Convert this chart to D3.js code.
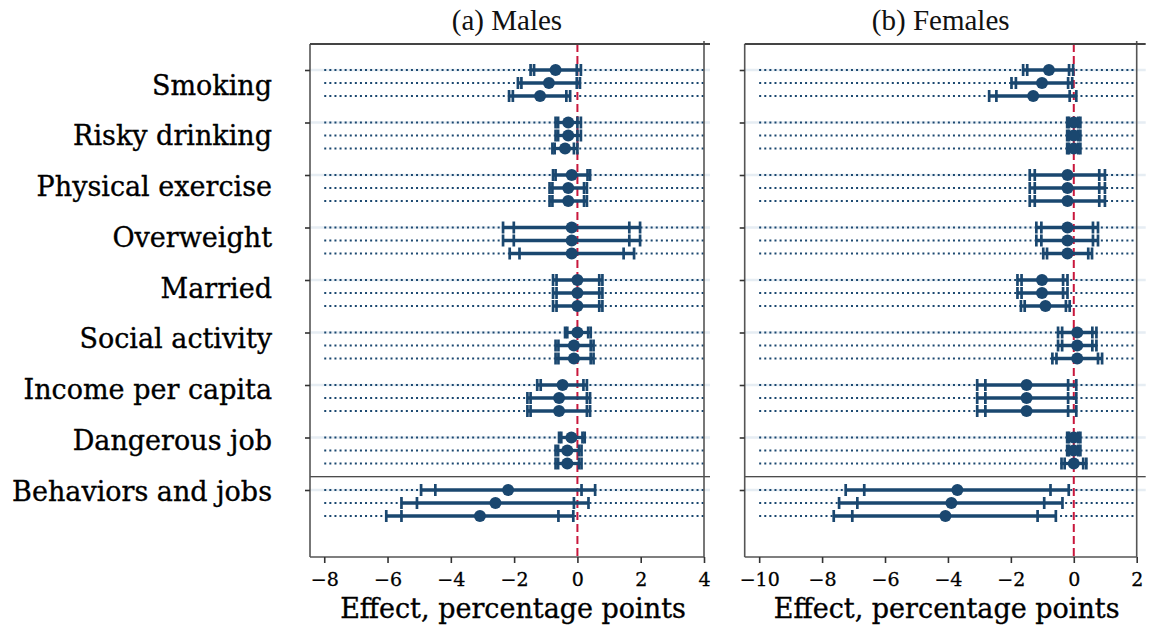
<!DOCTYPE html>
<html><head><meta charset="utf-8">
<script src="https://cdn.jsdelivr.net/npm/d3@7"></script>
<style>body{margin:0;background:#fff}svg{display:block}</style>
</head><body><svg id="c" width="1149" height="629"></svg>
<script>
// ---------- DATA ----------
const categories = ["Smoking","Risky drinking","Physical exercise","Overweight","Married","Social activity","Income per capita","Dangerous job","Behaviors and jobs"];
const panelTitles = ["(a) Males","(b) Females"];
const axisTitle = "Effect, percentage points";
const maleTicks = [-8,-6,-4,-2,0,2,4];
const femaleTicks = [-10,-8,-6,-4,-2,0,2];

// males: three specifications per category
const maleEst  = [[-0.69,-0.90,-1.18],[-0.29,-0.29,-0.39],[-0.18,-0.29,-0.29],[-0.18,-0.18,-0.18],[0.00,0.00,0.00],[0.00,-0.11,-0.11],[-0.47,-0.58,-0.58],[-0.19,-0.32,-0.32],[-2.19,-2.59,-3.08]];
const maleLo95 = [[-1.48,-1.88,-2.16],[-0.69,-0.69,-0.79],[-0.77,-0.88,-0.88],[-2.35,-2.35,-2.14],[-0.77,-0.77,-0.77],[-0.39,-0.69,-0.69],[-1.27,-1.58,-1.58],[-0.58,-0.69,-0.69],[-4.94,-5.56,-6.04]];
const maleLo90 = [[-1.37,-1.77,-2.04],[-0.61,-0.61,-0.72],[-0.69,-0.79,-0.79],[-2.01,-2.01,-1.83],[-0.66,-0.66,-0.66],[-0.32,-0.60,-0.60],[-1.16,-1.48,-1.48],[-0.51,-0.61,-0.61],[-4.49,-5.07,-5.56]];
const maleHi90 = [[-0.02,-0.02,-0.35],[0.00,0.00,-0.11],[0.32,0.21,0.21],[1.64,1.64,1.46],[0.69,0.69,0.69],[0.34,0.42,0.42],[0.19,0.30,0.30],[0.16,0.05,0.05],[0.13,-0.11,-0.60]];
const maleHi95 = [[0.11,0.08,-0.23],[0.11,0.11,0.00],[0.40,0.30,0.30],[1.98,1.98,1.79],[0.79,0.79,0.79],[0.42,0.51,0.51],[0.30,0.40,0.40],[0.23,0.13,0.13],[0.56,0.35,-0.13]];

// females
const femaleEst  = [[-0.79,-1.01,-1.29],[0.00,0.00,0.00],[-0.20,-0.20,-0.20],[-0.20,-0.20,-0.20],[-1.01,-1.01,-0.90],[0.11,0.11,0.11],[-1.50,-1.50,-1.50],[0.00,0.00,0.00],[-3.70,-3.89,-4.08]];
const femaleLo95 = [[-1.61,-1.98,-2.69],[-0.21,-0.21,-0.21],[-1.40,-1.40,-1.40],[-1.19,-1.19,-0.97],[-1.79,-1.79,-1.68],[-0.50,-0.50,-0.68],[-3.07,-3.07,-3.07],[-0.21,-0.21,-0.39],[-7.25,-7.46,-7.63]];
const femaleLo90 = [[-1.48,-1.84,-2.46],[-0.15,-0.15,-0.15],[-1.24,-1.24,-1.24],[-1.03,-1.03,-0.85],[-1.66,-1.66,-1.56],[-0.37,-0.37,-0.55],[-2.81,-2.81,-2.81],[-0.15,-0.15,-0.29],[-6.66,-6.88,-7.04]];
const femaleHi90 = [[-0.15,-0.18,-0.13],[0.14,0.14,0.14],[0.81,0.81,0.81],[0.61,0.61,0.46],[-0.34,-0.34,-0.25],[0.59,0.59,0.77],[-0.18,-0.18,-0.18],[0.14,0.14,0.30],[-0.74,-0.94,-1.15]];
const femaleHi95 = [[-0.02,-0.05,0.08],[0.21,0.21,0.21],[0.99,0.99,0.99],[0.77,0.77,0.58],[-0.20,-0.20,-0.13],[0.72,0.72,0.90],[0.08,0.08,0.08],[0.21,0.21,0.40],[-0.16,-0.36,-0.57]];

// ---------- DRAW ----------
const svg = d3.select("#c");
const NAVY = "#1a476f", RED = "#c8173c", FRAME = "#555";
const TOP = 44, BOTTOM = 557;
const serif = "'DejaVu Serif', serif";

const groupY = d3.scalePoint().domain(categories).range([70, 490]);
const subY = d3.scaleLinear().domain([0, 2]).range([0, 26]);
const labelY = d3.scalePoint().domain(categories).range([84, 490]);

const panels = [
  {title: panelTitles[0], range: [310, 704], domainMin: -8.45, ticks: maleTicks,
   est: maleEst, lo95: maleLo95, lo90: maleLo90, hi90: maleHi90, hi95: maleHi95, labels: true, ext: 6},
  {title: panelTitles[1], range: [744.7, 1136.7], domainMin: -10.46, ticks: femaleTicks,
   est: femaleEst, lo95: femaleLo95, lo90: femaleLo90, hi90: femaleHi90, hi95: femaleHi95, labels: false, ext: 9}
];

panels.forEach(p => {
  const x = d3.scaleLinear().domain([p.domainMin, p.ticks[p.ticks.length - 1]]).range(p.range);
  const [x0, x1] = p.range;
  const g = svg.append("g");

  const rows = [];
  categories.forEach((c, gi) => p.est[gi].forEach((v, ri) => rows.push({
    c, gi, ri, y: groupY(c) + subY(ri), est: v,
    lo95: p.lo95[gi][ri], lo90: p.lo90[gi][ri], hi90: p.hi90[gi][ri], hi95: p.hi95[gi][ri]
  })));

  // faint gridlines at category ticks
  g.append("g").selectAll("line").data(categories).join("line")
    .attr("x1", x0).attr("x2", x1 + p.ext)
    .attr("y1", d => groupY(d)).attr("y2", d => groupY(d))
    .attr("stroke", "#e6edf3").attr("stroke-width", 2.5);

  // dotted row lines
  g.append("g").selectAll("line").data(rows).join("line")
    .attr("x1", x(p.ticks[0])).attr("x2", x(p.ticks[p.ticks.length - 1]))
    .attr("y1", d => d.y).attr("y2", d => d.y)
    .attr("stroke", NAVY).attr("stroke-width", 2).attr("stroke-dasharray", "2,3.1");

  // separator
  const sepY = (groupY(categories[7]) + subY(2) + groupY(categories[8])) / 2;
  g.append("line").attr("x1", x0).attr("x2", x1 + p.ext).attr("y1", sepY).attr("y2", sepY)
    .attr("stroke", "#111").attr("stroke-width", 1.2);

  // zero line
  g.append("line").attr("x1", x(0)).attr("x2", x(0)).attr("y1", TOP).attr("y2", BOTTOM)
    .attr("stroke", RED).attr("stroke-width", 2).attr("stroke-dasharray", "8,4");

  // CI lines
  g.append("g").selectAll("line").data(rows).join("line")
    .attr("x1", d => x(d.lo95)).attr("x2", d => x(d.hi95))
    .attr("y1", d => d.y).attr("y2", d => d.y)
    .attr("stroke", NAVY).attr("stroke-width", 3.3);

  // caps
  const caps = [];
  rows.forEach(d => ["lo95", "lo90", "hi90", "hi95"].forEach(k => caps.push({y: d.y, v: d[k]})));
  g.append("g").selectAll("line").data(caps).join("line")
    .attr("x1", d => x(d.v)).attr("x2", d => x(d.v))
    .attr("y1", d => d.y - 6).attr("y2", d => d.y + 6)
    .attr("stroke", NAVY).attr("stroke-width", 2.7);

  // points
  g.append("g").selectAll("circle").data(rows).join("circle")
    .attr("cx", d => x(d.est)).attr("cy", d => d.y).attr("r", 6).attr("fill", NAVY);

  // frame
  const fr = g.append("g").attr("stroke", FRAME).attr("fill", "none");
  fr.append("line").attr("x1", x0).attr("x2", x0).attr("y1", TOP).attr("y2", BOTTOM).attr("stroke-width", 1.6);
  fr.append("line").attr("x1", x1).attr("x2", x1).attr("y1", TOP - 3).attr("y2", BOTTOM).attr("stroke-width", 1.6);
  fr.append("line").attr("x1", x0).attr("x2", x1).attr("y1", BOTTOM).attr("y2", BOTTOM).attr("stroke-width", 1.6);
  fr.append("line").attr("x1", x0).attr("x2", x1 + p.ext).attr("y1", TOP).attr("y2", TOP).attr("stroke", "#444").attr("stroke-width", 2);

  // y ticks
  const ya = g.append("g").attr("transform", `translate(${x0},0)`)
    .call(d3.axisLeft(groupY).tickSize(5).tickFormat(""));
  ya.select(".domain").remove();
  ya.selectAll("line").attr("stroke", "#333").attr("stroke-width", 1.6);

  // category labels
  if (p.labels) {
    const la = g.append("g").attr("transform", `translate(${x0},0)`)
      .call(d3.axisLeft(labelY).tickSize(0).tickPadding(38));
    la.select(".domain").remove();
    la.selectAll("text").attr("font-family", serif).attr("font-size", 27)
      .attr("fill", "#000").attr("stroke", "#000").attr("stroke-width", 0.35).attr("dy", "0.37em");
  }

  // x axis
  const xa = g.append("g").attr("transform", `translate(0,${BOTTOM})`)
    .call(d3.axisBottom(x).tickValues(p.ticks).tickSize(6).tickPadding(10));
  xa.select(".domain").remove();
  xa.selectAll("line").attr("stroke", "#333").attr("stroke-width", 1.6);
  xa.selectAll("text").attr("font-family", serif).attr("font-size", 19).attr("fill", "#000")
    .attr("stroke", "#000").attr("stroke-width", 0.3);

  // axis title
  g.append("text").attr("x", (x0 + x1) / 2 + 6).attr("y", 618)
    .attr("text-anchor", "middle").attr("font-family", serif).attr("font-size", 27).attr("fill", "#000")
    .attr("stroke", "#000").attr("stroke-width", 0.35)
    .text(axisTitle);

  // panel title
  g.append("text").attr("x", (x0 + x1) / 2).attr("y", 30)
    .attr("text-anchor", "middle").attr("font-family", "'Liberation Serif', serif").attr("font-size", 29).attr("fill", "#111")
    .text(p.title);
});
</script>
</body></html>
